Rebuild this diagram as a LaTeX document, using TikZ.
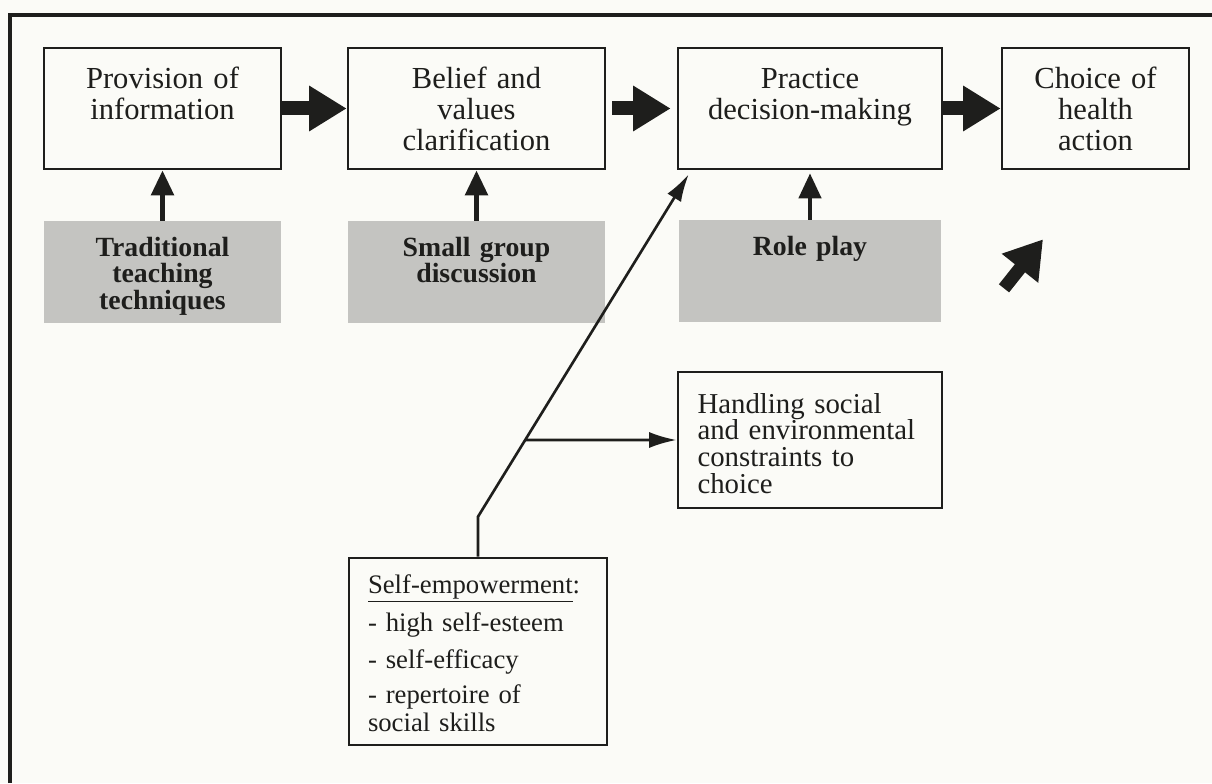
\documentclass[tikz,border=0pt]{standalone}
\usepackage{fontspec}
\setmainfont{Liberation Serif}
\usetikzlibrary{arrows.meta}
\definecolor{paper}{RGB}{251,251,247}
\definecolor{stipple}{RGB}{196,196,193}
\definecolor{ink}{RGB}{30,30,28}

\begin{document}
\begin{tikzpicture}[
  stage/.style={draw=ink,line width=1.5pt,inner sep=0pt,align=center,text=ink,
    text height=0.82cm,text depth=1.6cm,font=\fontsize{17.4}{17.6}\selectfont},
  method/.style={fill=stipple,inner sep=0pt,align=center,text=ink,
    text height=0.7cm,text depth=1.34cm,font=\fontsize{15.8}{15.3}\selectfont\bfseries},
  note/.style={draw=ink,line width=1.5pt,inner ysep=0pt,align=left,text=ink},
  bigarrow/.style={draw=ink,line width=0.28cm,-{Triangle[length=0.75cm,width=0.86cm]}},
  uparrow/.style={draw=ink,line width=3pt,-{Triangle[length=0.5cm,width=0.44cm]}},
  link/.style={draw=ink,line width=1.5pt,-{Latex[length=0.55cm,width=0.32cm]}}
]
  \useasboundingbox[fill=paper] (0,0) rectangle (24.24,15.66);
  \draw[ink,line width=2pt] (0.2,0) -- (0.2,15.36) -- (24.24,15.36);

  % stages
  \node[stage,text width=4.74cm] (prov) at (3.25,13.49) {Provision of\\information};
  \node[stage,text width=5.14cm] (belief) at (9.53,13.49) {Belief and\\values\\clarification};
  \node[stage,text width=5.28cm] (prac) at (16.2,13.49) {Practice\\decision-making};
  \node[stage,text width=3.74cm] (choice) at (21.91,13.49) {Choice of\\health\\action};

  % methods
  \node[method,text width=4.74cm] (trad) at (3.25,10.22) {Traditional\\teaching\\techniques};
  \node[method,text width=5.14cm] (small) at (9.53,10.22) {Small group\\discussion};
  \node[method,text width=5.24cm] (role) at (16.2,10.24) {Role play};

  \node[note,text width=4.5cm,inner xsep=0.39cm,text height=0.82cm,text depth=1.9cm,
    font=\fontsize{16.4}{15.2}\selectfont] (hand) at (16.2,6.86)
    {Handling social\\and environmental\\constraints to\\choice};
  \node[note,text width=4.4cm,inner xsep=0.38cm,text height=0.7cm,text depth=3.04cm,
    font=\fontsize{15.2}{15.9}\selectfont] (self) at (9.56,2.63)
    {\underline{Self-empowerment}:\\[5pt] - high self-esteem\\[5pt] - self-efficacy\\[4pt] - repertoire of\\social skills};

  \draw[bigarrow] (prov.east) -- (belief.west);
  \draw[bigarrow] ([xshift=0.12cm]belief.east) -- ([xshift=-0.12cm]prac.west);
  \draw[bigarrow] (prac.east) -- (choice.west);

  \draw[uparrow] (trad.north) -- (prov.south);
  \draw[uparrow] (small.north) -- (belief.south);
  \draw[uparrow,line width=2.5pt] (role.north) -- ([yshift=-0.06cm]prac.south);

  \coordinate (kink) at ([yshift=0.8cm]self.north);
  \coordinate (tip) at ([shift={(0.24,-0.08)}]prac.south west);
  \draw[link] (self.north) -- (kink) -- (tip);
  \coordinate (branch) at (intersection of kink--tip and hand.west--hand.east);
  \draw[link] (branch) -- (hand.west);

  \coordinate (cue) at ([shift={(-1.83,-2.36)}]choice.south);
  \coordinate (cuetip) at ([shift={(-1.05,-1.38)}]choice.south);
  \draw[bigarrow,line width=0.26cm,-{Triangle[length=0.74cm,width=0.88cm]}] (cue) -- (cuetip);
\end{tikzpicture}
\end{document}
